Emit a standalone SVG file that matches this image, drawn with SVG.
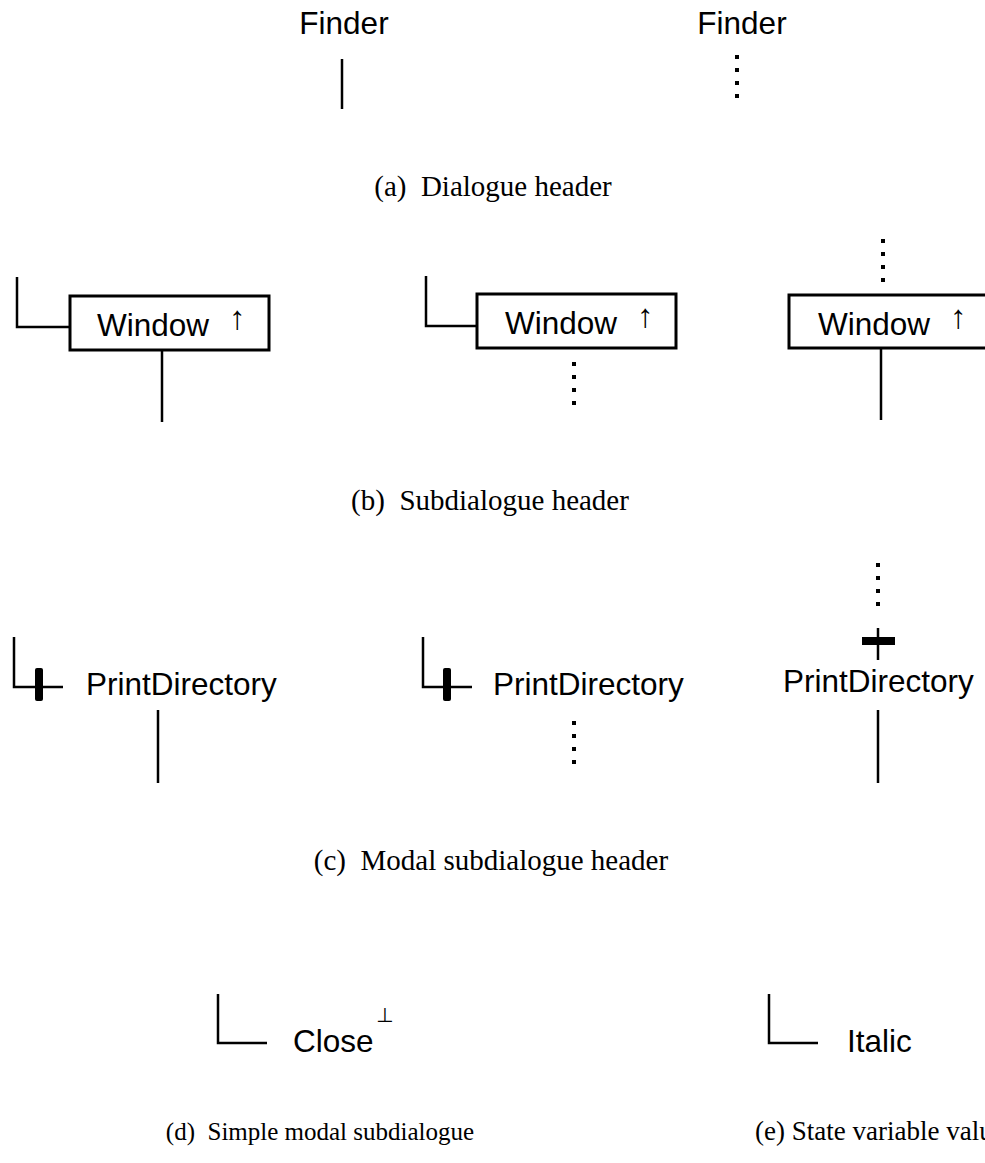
<svg xmlns="http://www.w3.org/2000/svg" width="985" height="1163" viewBox="0 0 985 1163">
  <style>
    .lbl { font-family: "Liberation Sans", Arial, sans-serif; font-size: 31.5px; fill: #000; }
    .cap { font-family: "Liberation Serif", "Times New Roman", serif; font-size: 29px; fill: #000; }
    .cap-sm { font-family: "Liberation Serif", "Times New Roman", serif; font-size: 25px; fill: #000; }
    .cap-md { font-family: "Liberation Serif", "Times New Roman", serif; font-size: 27px; fill: #000; }
    .arr { font-family: "Liberation Sans", Arial, sans-serif; font-size: 33px; fill: #000; }
    .sym { font-family: "DejaVu Sans", sans-serif; font-size: 20px; fill: #000; }
    .ln { stroke: #000; stroke-width: 2.5; fill: none; }
    .dot { stroke: #000; stroke-width: 4; stroke-dasharray: 4 9; fill: none; }
    .box { stroke: #000; stroke-width: 3; fill: #fff; }
  </style>

  <rect width="985" height="1163" fill="#fff"/>

  <!-- (a) dialogue header -->
  <g id="finder-solid">
    <text class="lbl" x="344" y="34" text-anchor="middle">Finder</text>
  </g>
  <g id="finder-dotted">
    <text class="lbl" x="742" y="34" text-anchor="middle">Finder</text>
  </g>
  <text class="cap" x="493" y="196" text-anchor="middle" xml:space="preserve">(a)  Dialogue header</text>

  <!-- (b) subdialogue header -->
  <g id="window-1">
    <rect class="box" x="70" y="296" width="199" height="54"/>
    <text class="lbl" x="97" y="336">Window<tspan class="arr" x="229" y="329">↑</tspan></text>
  </g>
  <g id="window-2">
    <rect class="box" x="477" y="294" width="199" height="54"/>
    <text class="lbl" x="505" y="334">Window<tspan class="arr" x="637" y="327">↑</tspan></text>
  </g>
  <g id="window-3">
    <rect class="box" x="789" y="295" width="205" height="53"/>
    <text class="lbl" x="818" y="335">Window<tspan class="arr" x="950" y="328">↑</tspan></text>
  </g>
  <text class="cap" x="490" y="510" text-anchor="middle" xml:space="preserve">(b)  Subdialogue header</text>

  <!-- (c) modal subdialogue header -->
  <g id="print-1">
    <text class="lbl" x="86" y="695">PrintDirectory</text>
  </g>
  <g id="print-2">
    <text class="lbl" x="493" y="695">PrintDirectory</text>
  </g>
  <g id="print-3">
    <text class="lbl" x="783" y="692">PrintDirectory</text>
  </g>
  <text class="cap" x="491" y="870" text-anchor="middle" xml:space="preserve">(c)  Modal subdialogue header</text>

  <!-- (d) simple modal subdialogue -->
  <g id="close">
    <text class="lbl" x="293" y="1052">Close<tspan class="sym" x="376" y="1022">⊥</tspan></text>
  </g>
  <text class="cap-sm" x="320" y="1140" text-anchor="middle" xml:space="preserve">(d)  Simple modal subdialogue</text>

  <!-- (e) state variable value -->
  <g id="italic">
    <text class="lbl" x="847" y="1052">Italic</text>
  </g>
  <text class="cap-md" x="755" y="1140">(e) State variable value</text>

  <!-- connectors -->
  <g id="connectors">
    <!-- (a) -->
    <line class="ln" x1="342" y1="59" x2="342" y2="109"/>
    <line class="dot" x1="737" y1="55" x2="737" y2="100"/>

    <!-- (b) -->
    <polyline class="ln" points="17,277 17,327 70,327"/>
    <line class="ln" x1="162" y1="350" x2="162" y2="422"/>
    <polyline class="ln" points="426,276 426,326 477,326"/>
    <line class="dot" x1="574" y1="362" x2="574" y2="407"/>
    <line class="dot" x1="883" y1="239" x2="883" y2="284"/>
    <line class="ln" x1="881" y1="348" x2="881" y2="420"/>

    <!-- (c) -->
    <polyline class="ln" points="14,637 14,687 63,687"/>
    <rect x="35" y="668" width="8" height="33" rx="2" fill="#000"/>
    <line class="ln" x1="158" y1="710" x2="158" y2="783"/>
    <polyline class="ln" points="423,637 423,687 472,687"/>
    <rect x="443" y="668" width="8" height="33" rx="2" fill="#000"/>
    <line class="dot" x1="574" y1="721" x2="574" y2="766"/>
    <line class="dot" x1="878" y1="563" x2="878" y2="608"/>
    <line class="ln" x1="878" y1="628" x2="878" y2="660"/>
    <rect x="862" y="637" width="33" height="8" fill="#000"/>
    <line class="ln" x1="878" y1="710" x2="878" y2="783"/>

    <!-- (d), (e) -->
    <polyline class="ln" points="218,994 218,1043 267,1043"/>
    <polyline class="ln" points="769,994 769,1043 818,1043"/>
  </g>
</svg>
